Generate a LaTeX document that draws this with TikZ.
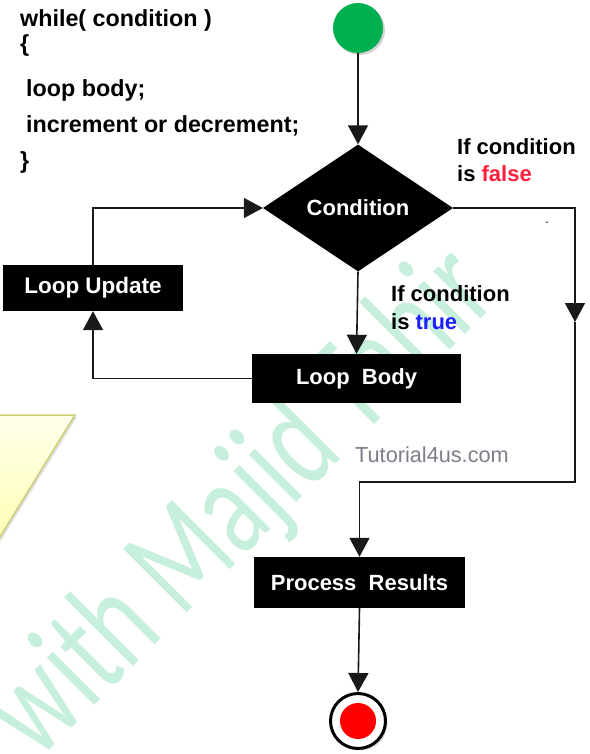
\documentclass[tikz,border=0pt]{standalone}
\usepackage{fontspec}
\setmainfont{Liberation Sans}
\newfontfamily\wmfont{Carlito}
\usetikzlibrary{arrows.meta,shapes.geometric,shadows}
\definecolor{startgreen}{RGB}{0,176,80}
\definecolor{wmgreen}{RGB}{198,239,220}
\definecolor{ylight}{RGB}{255,255,235}
\definecolor{ydark}{RGB}{255,255,180}
\definecolor{yborder}{RGB}{205,205,120}
\definecolor{falsered}{RGB}{255,30,60}
\definecolor{trueblue}{RGB}{30,30,255}
\definecolor{sitegray}{RGB}{128,124,136}
\definecolor{linegray}{RGB}{25,25,25}
\begin{document}
\begin{tikzpicture}[x=1pt,y=-1pt,
  boxtext/.style={font=\fontsize{22}{26}\selectfont\bfseries},
  blackbox/.style={rectangle, fill=black, text=white, boxtext, inner sep=0pt},
  arr/.style={-{Triangle[width=20pt,length=19pt]}, line width=1.6pt, draw=linegray},
  codetext/.style={font=\fontsize{23.3}{27}\selectfont\bfseries, anchor=base west, inner sep=0pt},
  lbl/.style={font=\fontsize{22}{26}\selectfont\bfseries, anchor=base west, inner sep=0pt},
  wm/.style={font=\wmfont\fontsize{140}{150}\selectfont, text=wmgreen, inner sep=0pt}]
\useasboundingbox (0,0) rectangle (589,754);
\fill[white] (0,0) rectangle (589,754);
% background decorations
\begin{scope}
\clip (0,0) rectangle (589,754);
\path[draw=yborder, line width=1.5pt, top color=ylight, bottom color=ydark,
      drop shadow={shadow xshift=2pt, shadow yshift=-2pt, opacity=0.25}]
  (-5,415) -- (75,415) -- (-5,545) -- cycle;
\node[wm, rotate=45] (wm) at (244,504) {\scalebox{0.71}[1]{with Majid Tahir}};
\end{scope}
% code
\node[codetext] (c1) at (20,27) {while( condition )};
\node[codetext] (c2) at (20,52) {\{};
\node[codetext] (c3) at (26,97) {loop body;};
\node[codetext] (c4) at (26,133) {increment or decrement;};
\node[codetext] (c5) at (20,168) {\}};
% nodes
\node[circle, fill=startgreen, minimum size=50pt, inner sep=0pt,
      drop shadow={shadow xshift=2pt, shadow yshift=-2pt, opacity=0.35}] (start) at (358,28) {};
\node[diamond, fill=black, text=white, boxtext, minimum width=190pt, minimum height=127pt, inner sep=0pt] (cond) at (358,208) {Condition};
\node[blackbox, minimum width=180pt, minimum height=46pt, font=\fontsize{22.5}{26}\selectfont\bfseries] (upd) at (93,288) {Loop Update};
\node[blackbox, minimum width=209pt, minimum height=49pt] (body) at (356.5,378.5) {Loop\ \ Body};
\node[blackbox, minimum width=211pt, minimum height=51pt] (proc) at (359.5,582.5) {Process\ \ Results};
\node[circle, draw=black, line width=3pt, fill=white, minimum size=55pt, inner sep=0pt,
      drop shadow={shadow xshift=2pt, shadow yshift=-2pt, opacity=0.35}] (stop) at (358,721) {};
\node[circle, fill=red, minimum size=36pt, inner sep=0pt] (stopdot) at (stop.center) {};
% labels
\node[lbl] (f1) at (457,155) {If condition};
\node[lbl] (f2) at (457,182) {is \textcolor{falsered}{false}};
\node[lbl] (t1) at (391,301) {If condition};
\node[lbl] (t2) at (391,329) {is \textcolor{trueblue}{true}};
\node[font=\fontsize{21.7}{24}\selectfont, text=sitegray, anchor=base west, inner sep=0pt] (site) at (355,462) {Tutorial4us.com};
\node[font=\fontsize{10}{12}\selectfont\bfseries, text=black!60, inner sep=0pt] (dash) at (547,224) {-};
% connectors
\coordinate (fmid) at (575,322);
\coordinate (fturn) at (575,482);
\draw[arr] (start.south) -- (cond.north);
\draw[arr] (cond.south) -- (body.north);
\draw[arr] (body.west) -| (upd.south);
\draw[arr] (upd.north) |- (cond.west);
\draw[arr] (cond.east) -| (fmid);
\draw[arr] (fmid) -- (fturn) -| (proc.north);
\draw[arr] (proc.south) -- (stop.north);
\end{tikzpicture}
\end{document}
